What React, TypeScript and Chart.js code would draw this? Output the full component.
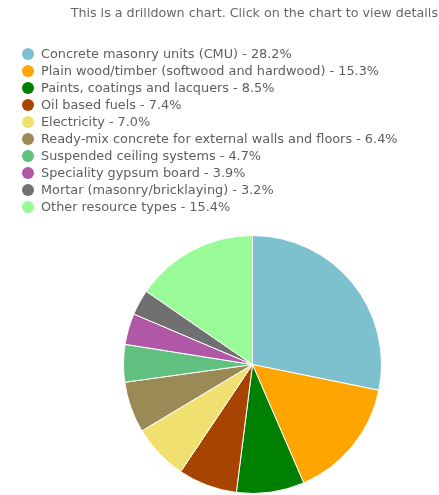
import React, { useEffect, useRef } from "react";
import { Chart, registerables } from "chart.js";

Chart.register(...registerables);

const subtitleText = "This is a drilldown chart. Click on the chart to view details";

const categories = [
  "Concrete masonry units (CMU)",
  "Plain wood/timber (softwood and hardwood)",
  "Paints, coatings and lacquers",
  "Oil based fuels",
  "Electricity",
  "Ready-mix concrete for external walls and floors",
  "Suspended ceiling systems",
  "Speciality gypsum board",
  "Mortar (masonry/bricklaying)",
  "Other resource types",
];

const shares = [28.2, 15.3, 8.5, 7.4, 7.0, 6.4, 4.7, 3.9, 3.2, 15.4];

const colors = [
  "#7cc1cd",
  "#ffa500",
  "#008000",
  "#a64400",
  "#efe070",
  "#9a8a55",
  "#60c080",
  "#b058a6",
  "#707070",
  "#98fb98",
];

const FONT = "'DejaVu Sans', sans-serif";

const legendPlugin = {
  id: "columnLegend",
  afterDraw(chart: any) {
    const ctx = chart.ctx;
    const labels: string[] = chart.data.labels;
    const ds = chart.data.datasets[0];
    ctx.save();
    ctx.font = `12.85px ${FONT}`;
    ctx.textBaseline = "middle";
    ctx.textAlign = "left";
    labels.forEach((lab, i) => {
      const y = 54 + i * 17;
      ctx.beginPath();
      ctx.arc(28, y, 6, 0, Math.PI * 2);
      ctx.fillStyle = ds.backgroundColor[i];
      ctx.fill();
      ctx.fillStyle = "#5e5e5e";
      const v = ds.data[i];
      ctx.fillText(`${lab} - ${v.toFixed(1)}%`, 41, y + 0.5);
    });
    ctx.restore();
  },
};

export default function App() {
  const ref = useRef<HTMLCanvasElement | null>(null);
  useEffect(() => {
    if (!ref.current) return;
    const chart = new Chart(ref.current, {
      type: "pie",
      data: {
        labels: categories,
        datasets: [
          {
            data: shares,
            backgroundColor: colors,
            borderColor: "#ffffff",
            borderWidth: 1,
          },
        ],
      },
      options: {
        responsive: true,
        maintainAspectRatio: false,
        animation: false,
        layout: { padding: { left: 67, right: 1, top: 0, bottom: 1 } },
        plugins: {
          legend: { display: false },
          tooltip: { enabled: false },
          title: { display: false },
          subtitle: {
            display: true,
            text: subtitleText,
            align: "end",
            color: "#666",
            font: { family: FONT, size: 12.7, weight: "normal" },
            padding: { top: 6.5, bottom: 213.3 },
          },
        },
      },
      plugins: [legendPlugin],
    });
    return () => chart.destroy();
  }, []);
  return (
    <div style={{ position: "fixed", left: 0, top: 0, width: 439, height: 495, background: "#fff" }}>
      <canvas ref={ref} />
    </div>
  );
}
